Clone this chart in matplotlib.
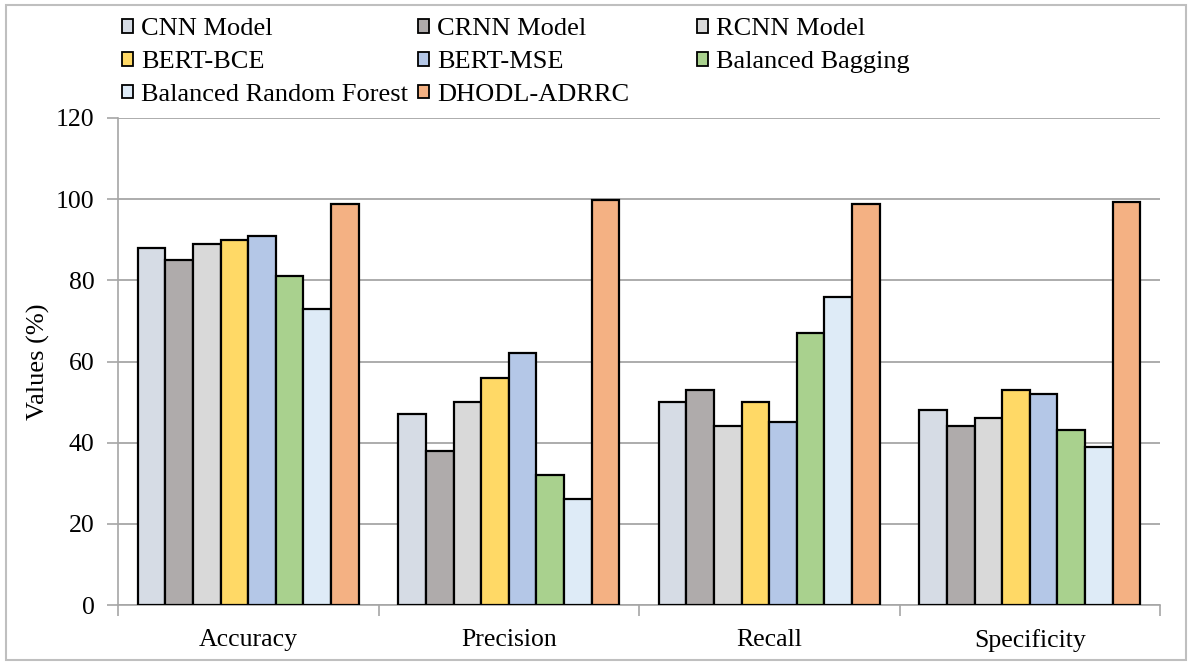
import numpy as np
import matplotlib
matplotlib.use("Agg")
import matplotlib.pyplot as plt
from matplotlib.patches import Patch, Rectangle

plt.rcParams['font.family'] = ['Liberation Serif', 'DejaVu Serif']

metrics = ['Accuracy', 'Precision', 'Recall', 'Specificity']
models = ['CNN Model', 'CRNN Model', 'RCNN Model', 'BERT-BCE', 'BERT-MSE',
          'Balanced Bagging', 'Balanced Random Forest', 'DHODL-ADRRC']
cnn = [88, 47, 50, 48]
crnn = [85, 38, 53, 44]
rcnn = [89, 50, 44, 46]
bert_bce = [90, 56, 50, 53]
bert_mse = [91, 62, 45, 52]
bal_bagging = [81, 32, 67, 43]
bal_rf = [73, 26, 76, 39]
dhodl = [98.8, 99.7, 98.8, 99.3]
series = [cnn, crnn, rcnn, bert_bce, bert_mse, bal_bagging, bal_rf, dhodl]
colors = ['#D6DCE5', '#AFABAB', '#D9D9D9', '#FFD966', '#B4C7E7',
          '#A9D18E', '#DEEBF7', '#F4B183']

fig = plt.figure(figsize=(11.9, 6.62), dpi=100)
ax = fig.add_axes([118/1190, 57/662, 1042/1190, 487/662])

x = np.arange(len(metrics))
w = 0.106
for i, vals in enumerate(series):
    ax.bar(x + (i - 3.5) * w, vals, w, color=colors[i], edgecolor='black',
           linewidth=1.6, zorder=3)

ax.set_xlim(-0.5, len(metrics) - 0.5)
ax.set_ylim(0, 120)
ax.set_yticks(range(0, 121, 20))
ax.set_xticks(x)
ax.set_xticklabels(metrics)
ax.set_xticks(np.arange(-0.5, len(metrics)), minor=True)
ax.tick_params(axis='x', which='major', length=0, pad=17, labelsize=18.5)
ax.tick_params(axis='x', which='minor', length=8, color='#A6A6A6', width=1.2)
ax.tick_params(axis='y', length=8, color='#A6A6A6', width=1.2, labelsize=18.5, pad=9)
ax.grid(axis='y', color='#A6A6A6', linewidth=1.3, zorder=0)
for s in ['top', 'right']:
    ax.spines[s].set_visible(False)
for s in ['left', 'bottom']:
    ax.spines[s].set_color('#A6A6A6')
    ax.spines[s].set_linewidth(1.2)
ax.set_ylabel('Values (%)', fontsize=19, labelpad=4)

# legend: three columns laid out row-wise like the original
handles = [Patch(facecolor=c, edgecolor='black', linewidth=1.3) for c in colors]
col_x = [104, 400, 679]
for c in range(3):
    idx = list(range(c, len(models), 3))
    leg = fig.legend([handles[k] for k in idx], [models[k] for k in idx],
                     loc='upper left', bbox_to_anchor=(col_x[c]/1190, 1.0),
                     frameon=False, prop={'family': 'Liberation Serif', 'size': 19},
                     handlelength=0.4, handleheight=0.4, handletextpad=0.3,
                     labelspacing=0.41, borderaxespad=0.3)

fig.patches.append(Rectangle((6/1190, 2/662), 1180/1190, 655/662,
                             transform=fig.transFigure, fill=False,
                             edgecolor='#BFBFBF', linewidth=1.5))

fig.savefig('out.png', dpi=100)
